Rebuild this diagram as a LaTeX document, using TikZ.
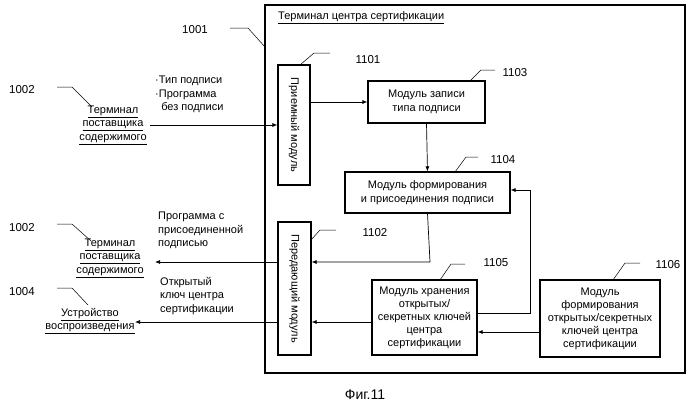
\documentclass[tikz,border=0pt]{standalone}
\usepackage{fontspec}
\setmainfont{Liberation Sans}
\usetikzlibrary{arrows.meta}
\begin{document}
\begin{tikzpicture}[x=1pt,y=-1pt,font=\fontsize{11}{13.5}\selectfont,
  box/.style={draw,line width=1.2pt,align=center,inner sep=1pt},
  arr/.style={-{Latex[length=5pt,width=4pt]},line width=0.7pt},
  lead/.style={line width=0.5pt},
  lbl/.style={align=left,anchor=north west,inner sep=0pt},
  num/.style={inner sep=1pt,font=\fontsize{11.5}{13}\selectfont}]
\useasboundingbox (0,0) rectangle (700,407);
\draw[line width=1.2pt] (265,5) rectangle (685,373);
\node[anchor=west,inner sep=0pt] (title) at (278,18) {\underline{Терминал центра сертификации}};
\node[num] (n1001) at (195,30) {1001};
\draw[lead] (230,28) -- (248,28) -- (265,47);
% modules
\node[box,minimum width=32pt,minimum height=120pt] (rx) at (294,125) {};
\node[rotate=-90] at (rx.center) {Приемный модуль};
\node[box,minimum width=33pt,minimum height=133pt] (tx) at (294.5,288.5) {};
\node[rotate=-90] at (tx.center) {Передающий модуль};
\node[box,minimum width=117pt,minimum height=42pt] (m1103) at (426.5,102) {Модуль записи\\типа подписи};
\node[box,minimum width=165pt,minimum height=41pt] (m1104) at (427.5,192.5) {Модуль формирования\\и присоединения подписи};
\node[box,minimum width=105pt,minimum height=75pt,font=\fontsize{11}{13}\selectfont] (m1105) at (424.5,317.5) {Модуль хранения\\открытых/\\секретных ключей\\центра\\сертификации};
\node[box,minimum width=120pt,minimum height=77pt,font=\fontsize{11}{13}\selectfont] (m1106) at (600,318.5) {Модуль\\формирования\\открытых/секретных\\ключей центра\\сертификации};
% numbers
\node[num] (n1101) at (368,60) {1101};
\draw[lead] (300,65) -- (314,53) -- (330,53);
\node[num] (n1103) at (515,73) {1103};
\draw[lead] (470,81) -- (481,70) -- (495,70);
\node[num] (n1104) at (503,160) {1104};
\draw[lead] (455,172) -- (466,157) -- (478,157);
\node[num] (n1102) at (375,233) {1102};
\draw[lead] (311,240) -- (320,230) -- (336,230);
\node[num] (n1105) at (496,263) {1105};
\draw[lead] (440,280) -- (451,264) -- (465,264);
\node[num] (n1106) at (668,265) {1106};
\draw[lead] (613,280) -- (625,263) -- (640,263);
% internal arrows
\draw[arr] (rx.east |- m1103.west) -- (m1103.west);
\draw[arr] (m1103.south) -- (m1104.north);
\draw[arr] (m1104.south) -- (430,262) -- (tx.east |- 0,262);
\draw[arr] (m1105.west |- 0,322) -- (tx.east |- 0,322);
\draw[arr] (m1105.east |- 0,313) -- (530,313) -- (530,190) -- (m1104.east |- 0,190);
\draw[arr] (m1106.west |- 0,332) -- (m1105.east |- 0,332);
% external
\node[num] (a1002) at (22,90) {1002};
\draw[lead] (57,87) -- (72,87) -- (92,107);
\node[align=center,inner sep=1pt] (ct1) at (113,125) {\underline{Терминал}\\\underline{поставщика}\\\underline{содержимого}};
\draw[arr] (150,125) -- (rx.west |- 0,125);
\node[lbl] at (155,76) {·Тип подписи\\·Программа\\\ \ без подписи};
\node[num] (b1002) at (22,228) {1002};
\draw[lead] (57,224) -- (72,224) -- (91,241);
\node[align=center,inner sep=1pt] (ct2) at (110,258) {\underline{Терминал}\\\underline{поставщика}\\\underline{содержимого}};
\draw[arr] (tx.west |- 0,262) -- (155,262);
\node[lbl] at (158,212) {Программа с\\присоединенной\\подписью};
\node[num] (c1004) at (22,292) {1004};
\draw[lead] (57,288) -- (72,288) -- (88,305);
\node[align=center,inner sep=1pt] (dev) at (90,321) {\underline{Устройство}\\\underline{воспроизведения}};
\draw[arr] (tx.west |- 0,322) -- (135,322);
\node[lbl] at (160,277) {Открытый\\ключ центра\\сертификации};
\node[font=\fontsize{14}{16}\selectfont] (cap) at (365,395) {Фиг.11};
\end{tikzpicture}
\end{document}
